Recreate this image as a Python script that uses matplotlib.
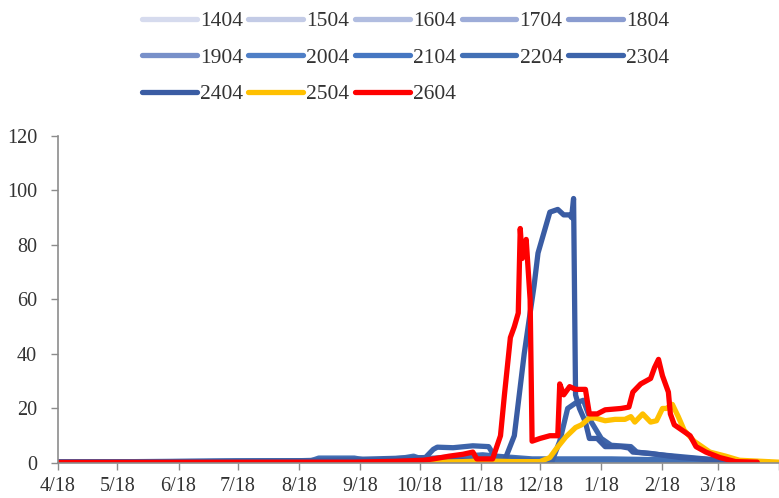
import matplotlib
matplotlib.use("Agg")
from matplotlib import pyplot as plt
import pandas as pd

plt.rcParams['font.family'] = ['Liberation Serif', 'DejaVu Serif']

start = pd.Timestamp('2021-04-18')

labels = ["1404", "1504", "1604", "1704", "1804", "1904", "2004",
          "2104", "2204", "2304", "2404", "2504", "2604"]
colors = ["#d6dbee", "#c3cbe6", "#b1bde0", "#9dacd8", "#8a9cd0", "#7890c9",
          "#4f7fc6", "#4677c2", "#4370b5", "#3d64aa", "#3a5ca3", "#ffc000", "#ff0000"]

# days after 4/18 and values, one pair per contract
d_1404 = [0, 60, 120, 180, 240, 300, 340]
v_1404 = [0.2, 0.3, 0.4, 0.6, 0.9, 0.6, 0.2]
d_1504 = [0, 60, 120, 180, 240, 300, 340]
v_1504 = [0.3, 0.3, 0.5, 0.7, 1.0, 0.7, 0.3]
d_1604 = [0, 60, 120, 180, 240, 300, 345]
v_1604 = [0.2, 0.4, 0.5, 0.8, 1.1, 0.8, 0.3]
d_1704 = [0, 60, 120, 180, 240, 300, 345]
v_1704 = [0.3, 0.4, 0.6, 0.9, 1.0, 0.9, 0.3]
d_1804 = [0, 60, 120, 180, 240, 300, 350]
v_1804 = [0.3, 0.5, 0.6, 0.8, 1.2, 0.9, 0.2]
d_1904 = [0, 60, 120, 180, 240, 300, 350]
v_1904 = [0.3, 0.5, 0.7, 0.9, 1.1, 1.0, 0.3]
d_2004 = [0, 60, 120, 180, 240, 280, 320, 360]
v_2004 = [0.3, 0.4, 0.6, 0.8, 0.9, 1.0, 0.8, 0.3]
d_2104 = [0, 60, 120, 180, 240, 280, 320, 350]
v_2104 = [0.4, 0.5, 0.7, 1.0, 1.0, 1.2, 0.9, 0.4]
d_2204 = [0, 40, 90, 128, 132, 150, 156, 166, 176, 180, 184, 195, 205, 215,
          222, 240, 280, 320, 340]
v_2204 = [0.3, 0.5, 0.8, 0.8, 1.8, 1.8, 1.0, 1.2, 2.0, 2.5, 1.5, 2.0, 2.5, 3.0,
          2.5, 1.5, 1.5, 1.0, 0.3]
d_2304 = [0, 60, 120, 160, 186, 190, 192, 200, 210, 218, 221, 230, 245, 250,
          254, 258, 262, 266, 270, 275, 280, 290, 293, 305, 320, 335, 345]
v_2304 = [0.3, 0.4, 0.8, 1.5, 2.0, 5.0, 5.8, 5.6, 6.3, 6.0, 2.5, 1.5, 0.5, 0.5,
          8.0, 20.0, 22.0, 23.0, 15.0, 9.0, 6.5, 6.0, 4.0, 3.0, 2.0, 1.0, 0.2]
d_2404 = [0, 60, 120, 180, 200, 222, 226, 231, 236, 241, 243, 245, 249, 253,
          256, 259, 260, 261, 262, 264, 267, 269, 273, 277, 285, 289, 291,
          300, 315, 335, 345]
v_2404 = [0.3, 0.4, 0.6, 1.0, 1.0, 0.8, 0.8, 10.0, 40.0, 65.0, 77.0, 82.0,
          92.0, 93.0, 91.0, 91.0, 90.0, 97.0, 25.0, 20.0, 15.0, 9.0, 9.0,
          6.0, 6.0, 5.5, 4.0, 3.5, 2.0, 1.0, 0.0]
d_2504 = [0, 120, 180, 190, 205, 215, 230, 244, 249, 252, 257, 262, 265,
          269, 272, 277, 282, 287, 290, 292, 296, 300, 303, 306, 308, 311,
          314, 317, 322, 330, 338, 345, 365]
v_2504 = [0.0, 0.0, 0.0, 0.3, 0.5, 0.8, 0.5, 0.5, 2.0, 5.0, 9.5, 13.0,
          14.0, 16.5, 16.5, 15.5, 16.0, 16.0, 17.0, 15.0, 18.0, 15.0, 15.5,
          20.0, 20.0, 21.5, 17.0, 12.0, 8.0, 4.0, 2.5, 1.0, 0.3]
d_2604 = [0, 150, 170, 185, 190, 198, 205, 210, 212, 220, 224, 226, 229,
          231, 233, 234, 235, 237, 239, 240, 244, 249, 253, 254, 256, 259,
          262, 264, 267, 269, 273, 277, 285, 289, 291, 295, 300, 302, 304,
          306, 309, 310, 312, 316, 320, 323, 328, 335, 343, 354]
v_2604 = [0.2, 0.3, 0.6, 1.0, 1.5, 2.5, 3.2, 4.0, 1.5, 1.5, 10.0, 25.0, 46.0,
          50.0, 55.0, 86.0, 75.0, 82.0, 60.0, 8.0, 9.0, 10.0, 10.0, 29.0,
          25.0, 28.0, 27.0, 27.0, 27.0, 18.0, 18.0, 19.5, 20.0, 20.5, 26.0,
          29.0, 31.0, 35.0, 38.0, 32.0, 26.0, 18.0, 14.0, 12.0, 10.0, 6.0,
          4.0, 2.0, 0.5, 0.3]

days = [d_1404, d_1504, d_1604, d_1704, d_1804, d_1904, d_2004,
        d_2104, d_2204, d_2304, d_2404, d_2504, d_2604]
vals = [v_1404, v_1504, v_1604, v_1704, v_1804, v_1904, v_2004,
        v_2104, v_2204, v_2304, v_2404, v_2504, v_2604]

fig = plt.figure(figsize=(7.79, 4.98), dpi=100)
ax = fig.add_axes([0.0745, 0.0703, 0.9255, 0.657])

lines = []
for d, v, lab, c in zip(days, vals, labels, colors):
    x = start + pd.to_timedelta(d, unit='D')
    ln, = ax.plot(x, v, color=c, lw=3.8, label=lab,
                  solid_capstyle='round', solid_joinstyle='round')
    lines.append(ln)

ticks = pd.date_range(start, start + pd.DateOffset(years=1),
                      freq=pd.DateOffset(months=1))
tick_labels = [f"{t.month}/{t.day}" for t in ticks]
tick_labels[-1] = ""
ax.set_xticks(ticks)
ax.set_xticklabels(tick_labels)
ax.set_xlim(ticks[0], ticks[-1])
ax.set_ylim(0, 120)
ax.set_yticks(range(0, 121, 20))

for s in ['top', 'right']:
    ax.spines[s].set_visible(False)
for s in ['left', 'bottom']:
    ax.spines[s].set_color('#8c8c8c')
    ax.spines[s].set_linewidth(1.2)
ax.tick_params(axis='both', direction='out', length=5, width=1.0,
               color='#8c8c8c', labelsize=14.5, labelcolor='#333333')
ax.tick_params(axis='x', pad=5)
ax.tick_params(axis='y', pad=10)

# legend is filled column by column, reorder so it reads row by row
order = [0, 5, 10, 1, 6, 11, 2, 7, 12, 3, 8, 4, 9]
ax.legend([lines[i] for i in order], [labels[i] for i in order],
          loc='upper left', bbox_to_anchor=(0.168, 0.999),
          bbox_transform=fig.transFigure, ncol=5, frameon=False,
          fontsize=15.5, handlelength=2.55, handletextpad=0.15,
          columnspacing=0.25, labelspacing=0.76, borderpad=0.0,
          labelcolor='#333333')

fig.savefig("out.png", dpi=100)
